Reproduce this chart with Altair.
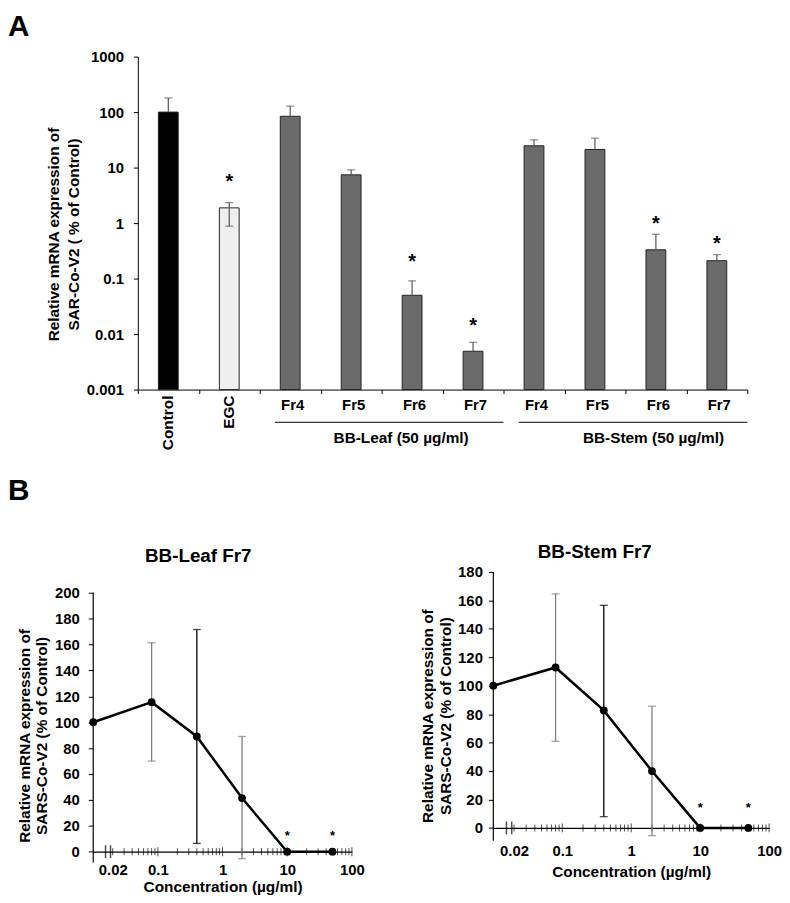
import altair as alt
import pandas as pd

FONT = "Liberation Sans"

# ---------------- Panel A data ----------------
a_ids = ["Control", "EGC", "Leaf Fr4", "Leaf Fr5", "Leaf Fr6", "Leaf Fr7",
         "Stem Fr4", "Stem Fr5", "Stem Fr6", "Stem Fr7"]
a_kind = ["control", "egc", "fraction", "fraction", "fraction", "fraction",
          "fraction", "fraction", "fraction", "fraction"]
a_values = [100, 1.88, 84, 7.4, 0.05, 0.0049, 24.7, 21.2, 0.33, 0.21]
a_err_hi = [180, 2.34, 128, 9.1, 0.091, 0.0071, 31.6, 33.9, 0.63, 0.27]
a_err_lo = [None, 0.88, None, None, None, None, None, None, None, None]
a_star_y = [None, 6.4, None, None, 0.23, 0.0164, None, None, 1.12, 0.49]
a_yticks = [0.001, 0.01, 0.1, 1, 10, 100, 1000]
a_rot_labels = ["Control", "EGC"]
group_names = ["BB-Leaf (50 µg/ml)", "BB-Stem (50 µg/ml)"]
group_first = ["Leaf Fr4", "Stem Fr4"]
group_last = ["Leaf Fr7", "Stem Fr7"]
group_mid = ["Leaf Fr6", "Stem Fr6"]

# ---------------- Panel B data ----------------
b_conc = [0.01, 0.08, 0.4, 2, 10, 50]
b_xlabels = [0.02, 0.1, 1, 10, 100]
b_xmajor = [0.1, 1, 10, 100]
b_xminor = [0.02, 0.03, 0.04, 0.05, 0.06, 0.07, 0.08, 0.09,
            0.2, 0.3, 0.4, 0.5, 0.6, 0.7, 0.8, 0.9,
            2, 3, 4, 5, 6, 7, 8, 9,
            20, 30, 40, 50, 60, 70, 80, 90]
b_break = [0.0155, 0.0185]

leaf_mean = [100, 115.5, 89, 41.4, 0, 0]
leaf_hi = [None, 161.4, 171.6, 89, None, None]
leaf_lo = [None, 70, 6.4, -5.4, None, None]
leaf_star = [None, None, None, None, 13.8, 13.8]
leaf_yticks = [0, 20, 40, 60, 80, 100, 120, 140, 160, 180, 200]

stem_mean = [100, 112.8, 82.6, 40, 0, 0]
stem_hi = [None, 164.5, 156.5, 85.6, None, None]
stem_lo = [None, 60.9, 7.9, -5.4, None, None]
stem_star = [None, None, None, None, 15.3, 15.3]
stem_yticks = [0, 20, 40, 60, 80, 100, 120, 140, 160, 180]

# ---------------- styles ----------------
KIND_COLORS = alt.Scale(domain=["control", "egc", "fraction"],
                        range=["#000000", "#efefef", "#6b6b6b"])
ERR_TONE = {0.08: "#7f7f7f", 0.4: "#000000", 2: "#7f7f7f"}


def label(text, x, y, size, align="left", baseline="top"):
    return alt.Chart(pd.DataFrame({"t": [text]})).mark_text(
        align=align, baseline=baseline, fontSize=size, fontWeight="bold", font=FONT,
        color="black").encode(text="t:N", x=alt.value(x), y=alt.value(y))


# ---------------- Panel A ----------------
dfA = pd.DataFrame({
    "id": a_ids, "kind": a_kind, "value": a_values, "hi": a_err_hi,
    "lo": [l if l is not None else v for l, v in zip(a_err_lo, a_values)],
    "star": a_star_y,
})
xsA = alt.Scale(domain=a_ids, paddingInner=0, paddingOuter=0)
ysA = alt.Scale(type="log", domain=[0.001, 1000])

xA_main = alt.X("id:N", scale=xsA, sort=a_ids, axis=alt.Axis(
    title=None, labelAngle=0, tickBand="extent", tickSize=4, labelPadding=4.5,
    labelOffset=2, labelFontSize=15,
    labelExpr="indexof(datum.label, ' ') > 0 ? split(datum.label, ' ')[1] : ''"))
xA = alt.X("id:N", scale=xsA, sort=a_ids)
yA_main = alt.Y("value:Q", scale=ysA, axis=alt.Axis(
    values=a_yticks, format="~g", tickSize=4.5, labelPadding=10, labelOverlap=False,
    title=["Relative mRNA expression of", "SAR-Co-V2 ( % of  Control)"],
    titlePadding=5, titleLineHeight=20, titleY=179))

bars = alt.Chart(dfA).mark_bar(width={"band": 0.325}, stroke="#222222", strokeWidth=1).encode(
    x=xA_main, y=yA_main, y2=alt.datum(0.001),
    fill=alt.Fill("kind:N", scale=KIND_COLORS, legend=None))
errA = alt.Chart(dfA).mark_rule(color="#555555", strokeWidth=1.2).encode(
    x=xA, y=alt.Y("lo:Q", scale=ysA), y2="hi:Q")
capA_hi = alt.Chart(dfA).mark_tick(orient="horizontal", size=8, thickness=1.2, color="#555555").encode(
    x=xA, y=alt.Y("hi:Q", scale=ysA))
capA_lo = alt.Chart(dfA).transform_filter("datum.lo < datum.value").mark_tick(
    orient="horizontal", size=8, thickness=1.2, color="#555555").encode(
    x=xA, y=alt.Y("lo:Q", scale=ysA))
starsA = alt.Chart(dfA).transform_filter("isValid(datum.star)").mark_text(
    text="*", fontSize=20, fontWeight="bold", font=FONT, dy=4, color="black").encode(
    x=xA, y=alt.Y("star:Q", scale=ysA))
rotA = alt.Chart(pd.DataFrame({"id": a_rot_labels})).mark_text(
    angle=270, align="right", baseline="middle", fontSize=15.5, fontWeight="bold",
    font=FONT, color="black").encode(x=xA, text="id:N", y=alt.value(342))

dfG = pd.DataFrame({"name": group_names, "first": group_first, "last": group_last, "mid": group_mid})
glines = alt.Chart(dfG).mark_rule(color="black", strokeWidth=1).encode(
    x=alt.X("first:N", scale=xsA, sort=a_ids, bandPosition=0.25),
    x2=alt.X2("last", bandPosition=1.0),
    y=alt.value(369))
glabel_layers = []
for i, bp in enumerate([0.32, 0.46]):
    glabel_layers.append(
        alt.Chart(dfG.iloc[[i]]).mark_text(fontSize=15.5, fontWeight="bold", font=FONT,
                                           baseline="middle", color="black").encode(
            x=alt.X("mid:N", scale=xsA, sort=a_ids, bandPosition=bp),
            text="name:N", y=alt.value(385)))

panelA = alt.layer(bars, errA, capA_hi, capA_lo, starsA, rotA, glines, *glabel_layers,
                   label("A", -131, -45, 30)).properties(width=615, height=336)

# invisible spacer so that panel A's plot starts 45 px right of panel B's left plot
spacer = alt.Chart(pd.DataFrame({"a": [0]})).mark_point(opacity=0).encode(
    x=alt.value(0), y=alt.value(0)).properties(width=45, height=10)
rowA = alt.hconcat(spacer, panelA, spacing=0, bounds="flush")


# ---------------- Panel B ----------------
def panel_b(title, mean, hi, lo, star, yticks, L, letter=None):
    df = pd.DataFrame({"conc": b_conc, "mean": mean, "hi": hi, "lo": lo, "star": star})
    df["tone"] = [ERR_TONE.get(c, "#000000") for c in b_conc]
    xs = alt.Scale(type="log", domain=[b_conc[0], 100])
    ys = alt.Scale(domain=[0, L["ymax"]], nice=False, zero=False)
    x_axis = alt.Axis(
        values=b_xlabels, format="~g", ticks=False, tickSize=0, labelPadding=L["xlp"],
        labelOverlap=False, labelFlush=False, title="Concentration (µg/ml)",
        titlePadding=L["xtp"], domainWidth=1.2)
    y_axis = alt.Axis(
        values=yticks, domain=False, tickSize=5, labelPadding=L["ylp"], labelFlush=False,
        labelOverlap=False,
        title=["Relative mRNA expression of", "SARS-Co-V2 (% of Control)"],
        titlePadding=L["ytp"], titleLineHeight=L["ylh"], titleY=L["tY"])

    def X(f):
        return alt.X(f, type="quantitative", scale=xs, axis=x_axis)

    def Y(f):
        return alt.Y(f, type="quantitative", scale=ys, axis=y_axis)

    dline = pd.DataFrame({"c": [b_conc[0]], "y0": [L["ybelow"]], "y1": [yticks[-1]]})
    yline = alt.Chart(dline).mark_rule(color="black", strokeWidth=1.2).encode(
        x=X("c"), y=Y("y0"), y2="y1:Q")
    minor = alt.Chart(pd.DataFrame({"v": b_xminor, "z": 0})).mark_tick(
        orient="vertical", size=7, thickness=1, color="black").encode(x=X("v"), y=Y("z"))
    major = alt.Chart(pd.DataFrame({"v": b_xmajor, "z": 0})).mark_tick(
        orient="vertical", size=9, thickness=1, color="black").encode(x=X("v"), y=Y("z"))
    brk = alt.Chart(pd.DataFrame({"v": b_break, "z": 0})).mark_tick(
        orient="vertical", size=13, thickness=1.5, color="black").encode(x=X("v"), y=Y("z"))
    ebase = alt.Chart(df).transform_filter("isValid(datum.hi)")
    tone = alt.Color("tone:N", scale=None)
    err = ebase.mark_rule(strokeWidth=1.3).encode(x=X("conc"), y=Y("lo"), y2="hi:Q", color=tone)
    cap_hi = ebase.mark_tick(orient="horizontal", size=8, thickness=1.3).encode(
        x=X("conc"), y=Y("hi"), color=tone)
    cap_lo = ebase.mark_tick(orient="horizontal", size=8, thickness=1.3).encode(
        x=X("conc"), y=Y("lo"), color=tone)
    line = alt.Chart(df).mark_line(color="black", strokeWidth=2.5).encode(x=X("conc"), y=Y("mean"))
    pts = alt.Chart(df).mark_circle(size=62, color="black", opacity=1).encode(
        x=X("conc"), y=Y("mean"))
    stars = alt.Chart(df).transform_filter("isValid(datum.star)").mark_text(
        text="*", fontSize=13, fontWeight="bold", font=FONT, dy=2, color="black").encode(
        x=X("conc"), y=Y("star"))
    layers = [line, yline, minor, major, brk, err, cap_hi, cap_lo, pts, stars,
              label(title, L["tx"], L["ty"], 19, align="center", baseline="alphabetic")]
    if letter:
        layers.append(label(letter, L["lx"], L["ly"], 30))
    return alt.layer(*layers).properties(width=L["w"], height=L["h"])


leftB = panel_b("BB-Leaf Fr7", leaf_mean, leaf_hi, leaf_lo, leaf_star, leaf_yticks,
                dict(w=261, h=282.3, ymax=216.1, xlp=11, xtp=2, ylp=9, ytp=5, ylh=17, tY=165,
                     ybelow=-8.4, tx=106, ty=-9.7, lx=-86, ly=-96.7), letter="B")
rightB = panel_b("BB-Stem Fr7", stem_mean, stem_hi, stem_lo, stem_star, stem_yticks,
                 dict(w=278.3, h=258.3, ymax=180, xlp=16, xtp=6, ylp=6, ytp=4, ylh=18, tY=145,
                      ybelow=-9.1, tx=102.3, ty=-13.7))

rowB = alt.hconcat(leftB, rightB, spacing=142.7, bounds="flush")

chart = alt.vconcat(rowA, rowB, spacing=25).properties(padding=0).configure_axis(
    labelFont=FONT, labelFontWeight="bold", labelColor="black", labelFontSize=15,
    titleFont=FONT, titleFontWeight="bold", titleColor="black", titleFontSize=15.5,
    grid=False, domainColor="black", tickColor="black"
).configure_view(stroke=None)

chart.save("out.html", embed_options={"renderer": "svg", "actions": False})
